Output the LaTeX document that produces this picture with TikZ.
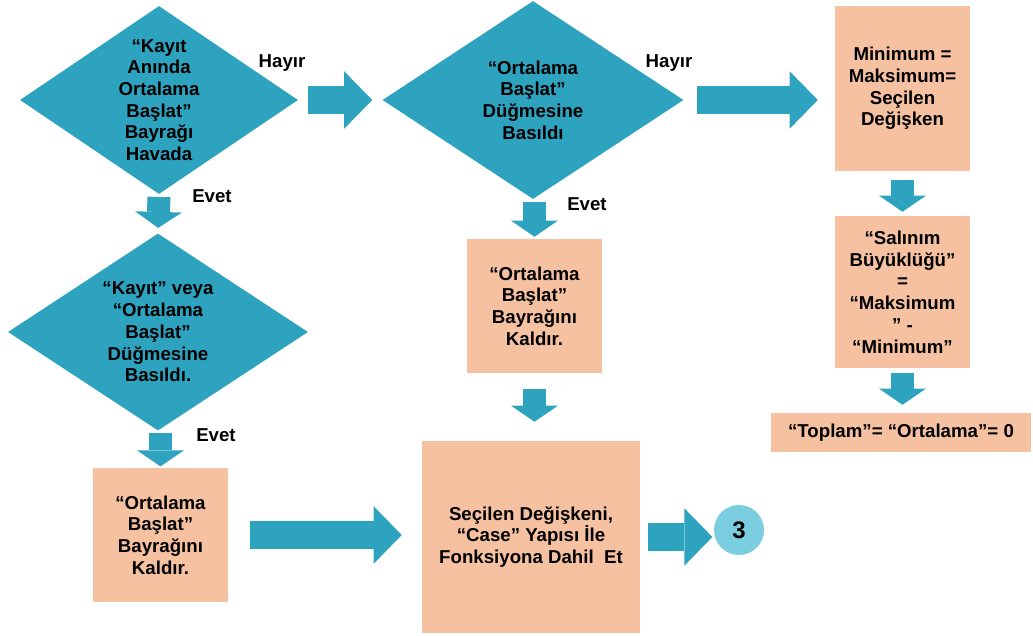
\documentclass[tikz,border=0pt]{standalone}
\usepackage{fontspec}
\setmainfont{Liberation Sans}
\usetikzlibrary{arrows.meta}
\usetikzlibrary{shapes.geometric}
\definecolor{c1}{RGB}{46,163,191}
\definecolor{c2}{RGB}{245,193,161}
\definecolor{c3}{RGB}{123,205,224}
\newdimen\px
\px=0.75pt
\tikzstyle{every node}=[font=\bfseries\fontsize{14}{16.3}\selectfont]
\tikzstyle{decision}=[diamond, aspect=1.5, fill=c1, inner sep=0pt, align=center]
\tikzstyle{process}=[rectangle, fill=c2, inner sep=0pt, align=center]
\tikzset{
  connector/.style={circle, fill=c3, minimum size=50\px, inner sep=0pt, font=\bfseries\fontsize{18}{20}\selectfont},
  answer/.style={inner sep=0pt},
  flow/.style = {-{Triangle[length=12pt, width=35pt, line width=0pt]}, draw=c1, line width=17.25pt},
  flowb/.style = {-{Triangle[length=21pt, width=43pt, line width=0pt]}, draw=c1, line width=21pt},
}

\begin{document}
\begin{tikzpicture}[x=0.75pt, y=-0.75pt]
    \useasboundingbox (0,0) rectangle (1033,636);

    \node[decision, minimum width=278\px, minimum height=188\px] (d1) at (159,100)
        {“Kayıt\\Anında\\Ortalama\\Başlat”\\Bayrağı\\Havada};

    \node[decision, minimum width=301\px, minimum height=198\px] (d2) at (533,100)
        {“Ortalama\\Başlat”\\Düğmesine\\Basıldı};

    \node[decision, minimum width=300\px, minimum height=197\px] (d3) at (158,332)
        {“Kayıt” veya\\“Ortalama\\Başlat”\\Düğmesine\\Basıldı.};

    \node[process, minimum width=135\px, minimum height=134\px] (lb) at (160.5,535)
        {“Ortalama\\Başlat”\\Bayrağını\\Kaldır.};

    \node[process, minimum width=135\px, minimum height=134\px] (cb) at (534.5,306)
        {“Ortalama\\Başlat”\\Bayrağını\\Kaldır.};

    \node[process, minimum width=218\px, minimum height=192\px] (big) at (531,537)
        {Seçilen Değişkeni,\\“Case” Yapısı İle\\Fonksiyona Dahil~ Et};

    \node[process, minimum width=135\px, minimum height=165\px] (m1) at (902.5,88.5)
        {Minimum =\\Maksimum=\\Seçilen\\Değişken};

    \node[process, minimum width=135\px, minimum height=152\px] (s1) at (902.5,292)
        {“Salınım\\Büyüklüğü”\\=\\“Maksimum\\” -\\“Minimum”};

    \node[process, minimum width=260\px, minimum height=39\px] (t1) at (901,432.5)
        {“Toplam”= “Ortalama”= 0};

    \node[connector] (c3) at (739,530) {3};

    \node[answer] (h1) at (282,63) {Hayır};
    \node[answer] (h2) at (669,63) {Hayır};
    \node[answer] (e1) at (212,196) {Evet};
    \node[answer] (e2) at (587,204) {Evet};
    \node[answer] (e3) at (216,435) {Evet};

    {
        \draw[flowb, shorten <=7.5pt, shorten >=7.5pt] (d1.east) -- (d2.west);
        \draw[flowb, shorten <=9.75pt, shorten >=12.75pt] (d2.east) -- (d2.east -| m1.west);
        \draw[flowb, shorten <=16.5pt, shorten >=15pt] (lb.east) -- (lb.east -| big.west);
        \draw[flowb, shorten <=6pt, shorten >=1pt] (big.east) -- (big.east -| c3.west);

        \draw[flow, shorten <=2pt, shorten >=4pt] (d1.south) -- (d3.north);
        \draw[flow, shorten <=2pt, shorten >=1pt] (lb.north |- d3.south) -- (lb.north);
        \draw[flow, shorten <=2pt, shorten >=1.5pt] (cb.north |- d2.south) -- (cb.north);
        \draw[flow, shorten <=12pt, shorten >=14.25pt] (cb.south) -- (cb.south |- big.north);
        \draw[flow, shorten <=6.75pt, shorten >=3pt] (m1.south) -- (s1.north);
        \draw[flow, shorten <=3.75pt, shorten >=6pt] (s1.south) -- (s1.south |- t1.north);
    }

\end{tikzpicture}
\end{document}
